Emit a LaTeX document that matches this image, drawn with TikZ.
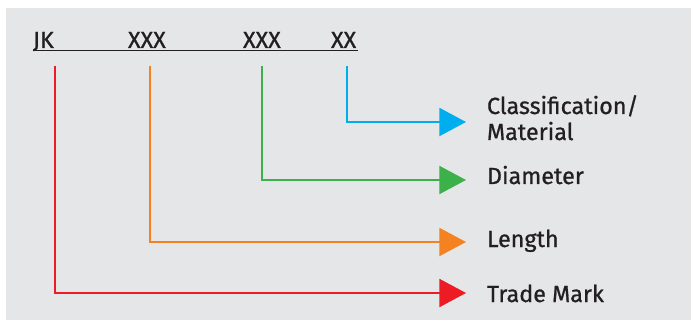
\documentclass[tikz,border=0pt]{standalone}
\usepackage{fontspec}
\setmainfont{Fira Sans}[RawFeature={embolden=0.8}]
\usetikzlibrary{arrows.meta}

\definecolor{panel}{HTML}{E5E6E8}
\definecolor{ink}{HTML}{231F20}
\definecolor{tmred}{HTML}{ED1C24}
\definecolor{lenorange}{HTML}{F58220}
\definecolor{diagreen}{HTML}{3CB149}
\definecolor{clsblue}{HTML}{00AEEF}

\begin{document}
\begin{tikzpicture}[x=0.75pt,y=-0.75pt,
  every node/.style={inner sep=0pt, outer sep=0pt, text=ink, font=\fontsize{17.5}{19.5}\selectfont},
  code/.style={anchor=base west},
  lbl/.style={anchor=base west, align=left},
  feed/.style={line width=1.6pt, -{Triangle[length=20pt,width=21pt]}}]

\useasboundingbox (0,0) rectangle (691,320);
\fill[panel] (6,8) rectangle (691,320);

% code on top
\node[code] (jk) at (33,48) {JK};
\node[code] (len) at (128,48) {XXX};
\node[code] (dia) at (243,48) {XXX};
\node[code] (cls) at (331,48) {XX};
\draw[ink, line width=1.1pt] (33,50.5) -- (358,50.5);

% where the lines start and end
\coordinate (jktop) at (55,66);
\coordinate (lentop) at (150,66);
\coordinate (diatop) at (262,66);
\coordinate (clstop) at (347,66);
\coordinate (jkend) at (466,293);
\coordinate (lenend) at (466,242);
\coordinate (diaend) at (466,180);
\coordinate (clsend) at (466,122);

% labels
\node[lbl] (material) at (487,140) {Classification/\\Material};
\node[lbl] (diameter) at (487,184) {Diameter};
\node[lbl] (length) at (487,247) {Length};
\node[lbl] (trademark) at (487,302) {Trade Mark};

\draw[feed, clsblue] (clstop) |- (clsend);
\draw[feed, diagreen] (diatop) |- (diaend);
\draw[feed, lenorange] (lentop) |- (lenend);
\draw[feed, tmred] (jktop) |- (jkend);
\end{tikzpicture}
\end{document}
